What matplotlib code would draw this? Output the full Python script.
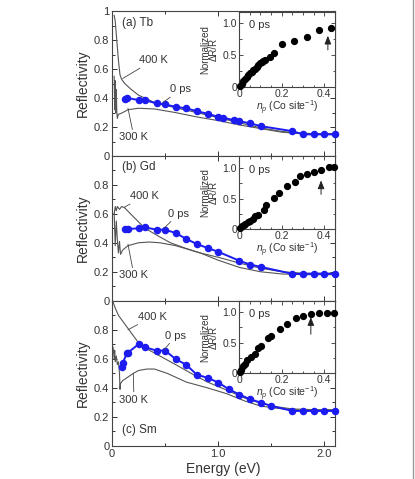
import matplotlib
matplotlib.use("Agg")
import matplotlib.pyplot as plt
from matplotlib.ticker import MultipleLocator, FixedLocator
from matplotlib.lines import Line2D

plt.rcParams['font.family'] = ['Liberation Sans', 'DejaVu Sans']
plt.rcParams['mathtext.fontset'] = 'custom'
plt.rcParams['mathtext.it'] = 'Liberation Sans:italic'
plt.rcParams['mathtext.rm'] = 'Liberation Sans'

# ---- Data ----
# (a) Tb
tb_e_0ps = [0.12, 0.14, 0.25, 0.31, 0.42, 0.50, 0.60, 0.70, 0.80, 0.90, 1.00, 1.05, 1.15, 1.20, 1.30, 1.40, 1.70, 1.80, 1.90, 2.00, 2.10]
tb_r_0ps = [0.393, 0.402, 0.386, 0.386, 0.363, 0.356, 0.340, 0.329, 0.310, 0.292, 0.271, 0.264, 0.248, 0.241, 0.226, 0.207, 0.172, 0.150, 0.150, 0.150, 0.150]
tb_e_400 = [0.02, 0.03, 0.04, 0.05, 0.06, 0.075, 0.09, 0.12, 0.18, 0.25, 0.40, 0.56, 0.80, 1.00, 1.20, 1.40, 1.60, 1.75, 1.90, 2.10]
tb_r_400 = [0.97, 0.93, 0.84, 0.75, 0.66, 0.56, 0.53, 0.50, 0.46, 0.42, 0.37, 0.34, 0.30, 0.265, 0.23, 0.195, 0.17, 0.16, 0.155, 0.155]
tb_e_300 = [0.02, 0.025, 0.03, 0.035, 0.04, 0.045, 0.05, 0.06, 0.07, 0.10, 0.15, 0.25, 0.40, 0.60, 0.80, 1.00, 1.20, 1.40, 1.60, 1.80, 2.10]
tb_r_300 = [0.55, 0.32, 0.52, 0.30, 0.46, 0.30, 0.26, 0.29, 0.29, 0.30, 0.32, 0.33, 0.325, 0.30, 0.27, 0.245, 0.215, 0.19, 0.165, 0.155, 0.15]
tb_np = [0.005, 0.013, 0.02, 0.028, 0.036, 0.044, 0.052, 0.06, 0.067, 0.075, 0.083, 0.091, 0.099, 0.107, 0.114, 0.122, 0.143, 0.165, 0.20, 0.26, 0.318, 0.376, 0.433]
tb_dr = [0.016, 0.057, 0.094, 0.125, 0.151, 0.19, 0.214, 0.24, 0.266, 0.29, 0.318, 0.344, 0.37, 0.385, 0.406, 0.42, 0.47, 0.536, 0.667, 0.72, 0.786, 0.89, 0.917]

# (b) Gd
gd_e_0ps = [0.12, 0.15, 0.25, 0.31, 0.42, 0.50, 0.60, 0.70, 0.80, 0.90, 1.00, 1.20, 1.30, 1.40, 1.70, 1.80, 1.90, 2.00, 2.10]
gd_r_0ps = [0.494, 0.494, 0.500, 0.506, 0.490, 0.490, 0.467, 0.426, 0.391, 0.364, 0.338, 0.276, 0.250, 0.234, 0.186, 0.186, 0.186, 0.186, 0.186]
gd_e_400 = [0.02, 0.03, 0.04, 0.05, 0.07, 0.09, 0.12, 0.20, 0.31, 0.45, 0.55, 0.70, 0.83, 1.00, 1.20, 1.40, 1.60, 1.80, 2.10]
gd_r_400 = [0.60, 0.65, 0.62, 0.65, 0.63, 0.65, 0.64, 0.58, 0.50, 0.44, 0.40, 0.36, 0.33, 0.30, 0.26, 0.225, 0.20, 0.19, 0.19]
gd_e_300 = [0.02, 0.03, 0.04, 0.05, 0.06, 0.07, 0.08, 0.10, 0.15, 0.25, 0.35, 0.45, 0.60, 0.83, 1.00, 1.20, 1.40, 1.60, 1.80, 2.10]
gd_r_300 = [0.60, 0.38, 0.55, 0.42, 0.33, 0.41, 0.32, 0.35, 0.38, 0.40, 0.405, 0.40, 0.38, 0.33, 0.28, 0.23, 0.20, 0.185, 0.18, 0.18]
gd_np = [0.005, 0.013, 0.021, 0.029, 0.041, 0.053, 0.064, 0.077, 0.088, 0.117, 0.128, 0.165, 0.189, 0.224, 0.261, 0.285, 0.32, 0.354, 0.385, 0.421, 0.445]
gd_dr = [0.016, 0.043, 0.07, 0.087, 0.107, 0.134, 0.164, 0.207, 0.234, 0.316, 0.398, 0.508, 0.60, 0.715, 0.78, 0.874, 0.902, 0.934, 0.972, 1.016, 1.016]

# (c) Sm
sm_e_0ps = [0.09, 0.10, 0.14, 0.15, 0.25, 0.31, 0.42, 0.50, 0.60, 0.70, 0.80, 0.90, 1.00, 1.10, 1.20, 1.30, 1.40, 1.50, 1.70, 1.80, 1.90, 2.00, 2.10]
sm_r_0ps = [0.547, 0.570, 0.639, 0.643, 0.701, 0.680, 0.657, 0.657, 0.598, 0.559, 0.490, 0.470, 0.437, 0.391, 0.354, 0.322, 0.299, 0.276, 0.241, 0.241, 0.241, 0.241, 0.241]
sm_e_400 = [0.005, 0.03, 0.06, 0.10, 0.14, 0.20, 0.25, 0.35, 0.45, 0.60, 0.77, 0.90, 1.08, 1.25, 1.40, 1.55, 1.70, 1.90, 2.10]
sm_r_400 = [1.00, 0.95, 0.90, 0.86, 0.82, 0.76, 0.71, 0.66, 0.62, 0.56, 0.49, 0.44, 0.385, 0.33, 0.295, 0.27, 0.255, 0.25, 0.25]
sm_e_300 = [0.01, 0.02, 0.025, 0.03, 0.04, 0.05, 0.06, 0.07, 0.075, 0.08, 0.10, 0.14, 0.20, 0.25, 0.33, 0.40, 0.52, 0.70, 0.90, 1.08, 1.25, 1.40, 1.55, 1.70, 1.90, 2.10]
sm_r_300 = [0.68, 0.60, 0.66, 0.58, 0.62, 0.56, 0.58, 0.50, 0.39, 0.43, 0.45, 0.47, 0.50, 0.52, 0.53, 0.53, 0.50, 0.44, 0.40, 0.36, 0.31, 0.275, 0.26, 0.25, 0.245, 0.245]
sm_np = [0.003, 0.011, 0.019, 0.027, 0.038, 0.058, 0.074, 0.09, 0.101, 0.137, 0.148, 0.192, 0.227, 0.268, 0.302, 0.339, 0.376, 0.413, 0.445]
sm_dr = [0.017, 0.057, 0.113, 0.158, 0.214, 0.27, 0.31, 0.41, 0.45, 0.58, 0.606, 0.72, 0.805, 0.906, 0.934, 0.973, 0.99, 0.99, 0.99]

panels = [
    dict(tag='(a) Tb', e0=tb_e_0ps, r0=tb_r_0ps, e4=tb_e_400, r4=tb_r_400, e3=tb_e_300, r3=tb_r_300,
         npx=tb_np, dr=tb_dr, arrow_x=0.417, arrow_y=(0.58, 0.80),
         tag_xy=(0.09, 0.92), lab400=((0.25, 0.66), (0.10, 0.535)), lab300=((0.07, 0.13), (0.15, 0.33)),
         lab0=((0.55, 0.46), (0.48, 0.37)), ymaxlab=True, inset=[0.576, 0.818, 0.231, 0.157], iylim=1.17),
    dict(tag='(b) Gd', e0=gd_e_0ps, r0=gd_r_0ps, e4=gd_e_400, r4=gd_r_400, e3=gd_e_300, r3=gd_r_300,
         npx=gd_np, dr=gd_dr, arrow_x=0.385, arrow_y=(0.57, 0.80),
         tag_xy=(0.09, 0.92), lab400=((0.17, 0.72), (0.115, 0.645)), lab300=((0.07, 0.175), (0.15, 0.39)),
         lab0=((0.53, 0.60), (0.49, 0.50)), ymaxlab=False, inset=[0.576, 0.522, 0.231, 0.152], iylim=1.2),
    dict(tag='(c) Sm', e0=sm_e_0ps, r0=sm_r_0ps, e4=sm_e_400, r4=sm_r_400, e3=sm_e_300, r3=sm_r_300,
         npx=sm_np, dr=sm_dr, arrow_x=0.337, arrow_y=(0.64, 0.92),
         tag_xy=(0.09, 0.11), lab400=((0.24, 0.89), (0.15, 0.80)), lab300=((0.07, 0.32), (0.20, 0.50)),
         lab0=((0.50, 0.76), (0.49, 0.66)), ymaxlab=False, inset=[0.576, 0.221, 0.231, 0.150], iylim=1.18),
]

fig = plt.figure(figsize=(4.15, 4.79), dpi=100)
gray = '#555555'
blue = '#1c1cf0'
txt = '#333333'

bottoms = [0.674, 0.372, 0.069]
for p, b in zip(panels, bottoms):
    ax = fig.add_axes([0.270, b, 0.537, 0.303])
    ax.plot(p['e4'], p['r4'], color=gray, lw=0.8)
    ax.plot(p['e3'], p['r3'], color=gray, lw=0.8)
    ax.plot(p['e0'], p['r0'], color=blue, lw=1.4, marker='o', ms=4.4, clip_on=False, zorder=3)
    ax.set_xlim(0, 2.1)
    ax.set_ylim(0, 1.0)
    ax.xaxis.set_major_locator(FixedLocator([0, 1.0, 2.0]))
    ax.xaxis.set_minor_locator(FixedLocator([0.5, 1.5]))
    ax.yaxis.set_major_locator(MultipleLocator(0.2))
    ax.yaxis.set_minor_locator(MultipleLocator(0.1))
    ax.tick_params(which='both', direction='in', top=True, right=True, colors=txt,
                   labelsize=8, width=0.7, pad=2)
    ax.tick_params(which='major', length=3.5)
    ax.tick_params(which='minor', length=2)
    ylabels = ['0', '0.2', '0.4', '0.6', '0.8', '1' if p['ymaxlab'] else '']
    ax.set_yticks([0, 0.2, 0.4, 0.6, 0.8, 1.0])
    ax.set_yticklabels(ylabels)
    for s in ax.spines.values():
        s.set_color('#444444')
        s.set_linewidth(0.8)
    if b == bottoms[-1]:
        ax.set_xticklabels(['0', '1.0', '2.0'])
        ax.set_xlabel('Energy (eV)', fontsize=10, color=txt, labelpad=2)
    else:
        ax.set_xticklabels([])
    ax.set_ylabel('Reflectivity', fontsize=10, color=txt, labelpad=3)
    ax.text(p['tag_xy'][0], p['tag_xy'][1], p['tag'], fontsize=8.5, color=txt, va='center')
    for lab, (t, c) in (('400 K', p['lab400']), ('300 K', p['lab300']), ('0 ps', p['lab0'])):
        ax.annotate(lab, xy=c, xytext=t, fontsize=8, color=txt, va='center',
                    arrowprops=dict(arrowstyle='-', color='#444444', lw=0.6, shrinkA=0, shrinkB=0))

    ins = fig.add_axes(p['inset'])
    ins.plot(p['npx'], p['dr'], 'o', color='black', ms=4.2, clip_on=False, zorder=3)
    ins.set_xlim(0, 0.45)
    ins.set_ylim(0, p['iylim'])
    ins.xaxis.set_major_locator(FixedLocator([0, 0.2, 0.4]))
    ins.xaxis.set_minor_locator(MultipleLocator(0.05))
    ins.yaxis.set_major_locator(FixedLocator([0, 0.5, 1.0]))
    ins.yaxis.set_minor_locator(MultipleLocator(0.25))
    ins.set_xticklabels(['0', '0.2', '0.4'])
    ins.set_yticklabels(['0', '0.5', '1.0'])
    ins.tick_params(which='both', direction='in', top=True, right=True, colors=txt,
                    labelsize=7.5, width=0.6, pad=1.5)
    ins.tick_params(which='major', length=3)
    ins.tick_params(which='minor', length=1.8)
    for s in ins.spines.values():
        s.set_color('#444444')
        s.set_linewidth(0.8)
    ins.set_xlabel(r'$n_p$ (Co site$^{-1}$)', fontsize=7.5, color=txt, labelpad=0)
    ins.set_ylabel('Normalized\n\u0394R/R', fontsize=7, color=txt, labelpad=2.5, linespacing=0.9)
    ins.text(0.045, 0.97, '0 ps', fontsize=8, color=txt, va='center')
    ins.annotate('', xy=(p['arrow_x'], p['arrow_y'][1]), xytext=(p['arrow_x'], p['arrow_y'][0]),
                 arrowprops=dict(arrowstyle='-|>,head_length=0.5,head_width=0.2', color='#222222', lw=0.7,
                                 shrinkA=0, shrinkB=0))

fig.add_artist(Line2D([0.996, 0.996], [0, 1], transform=fig.transFigure, color='#999999', lw=1))

fig.savefig('out.png', dpi=100)
